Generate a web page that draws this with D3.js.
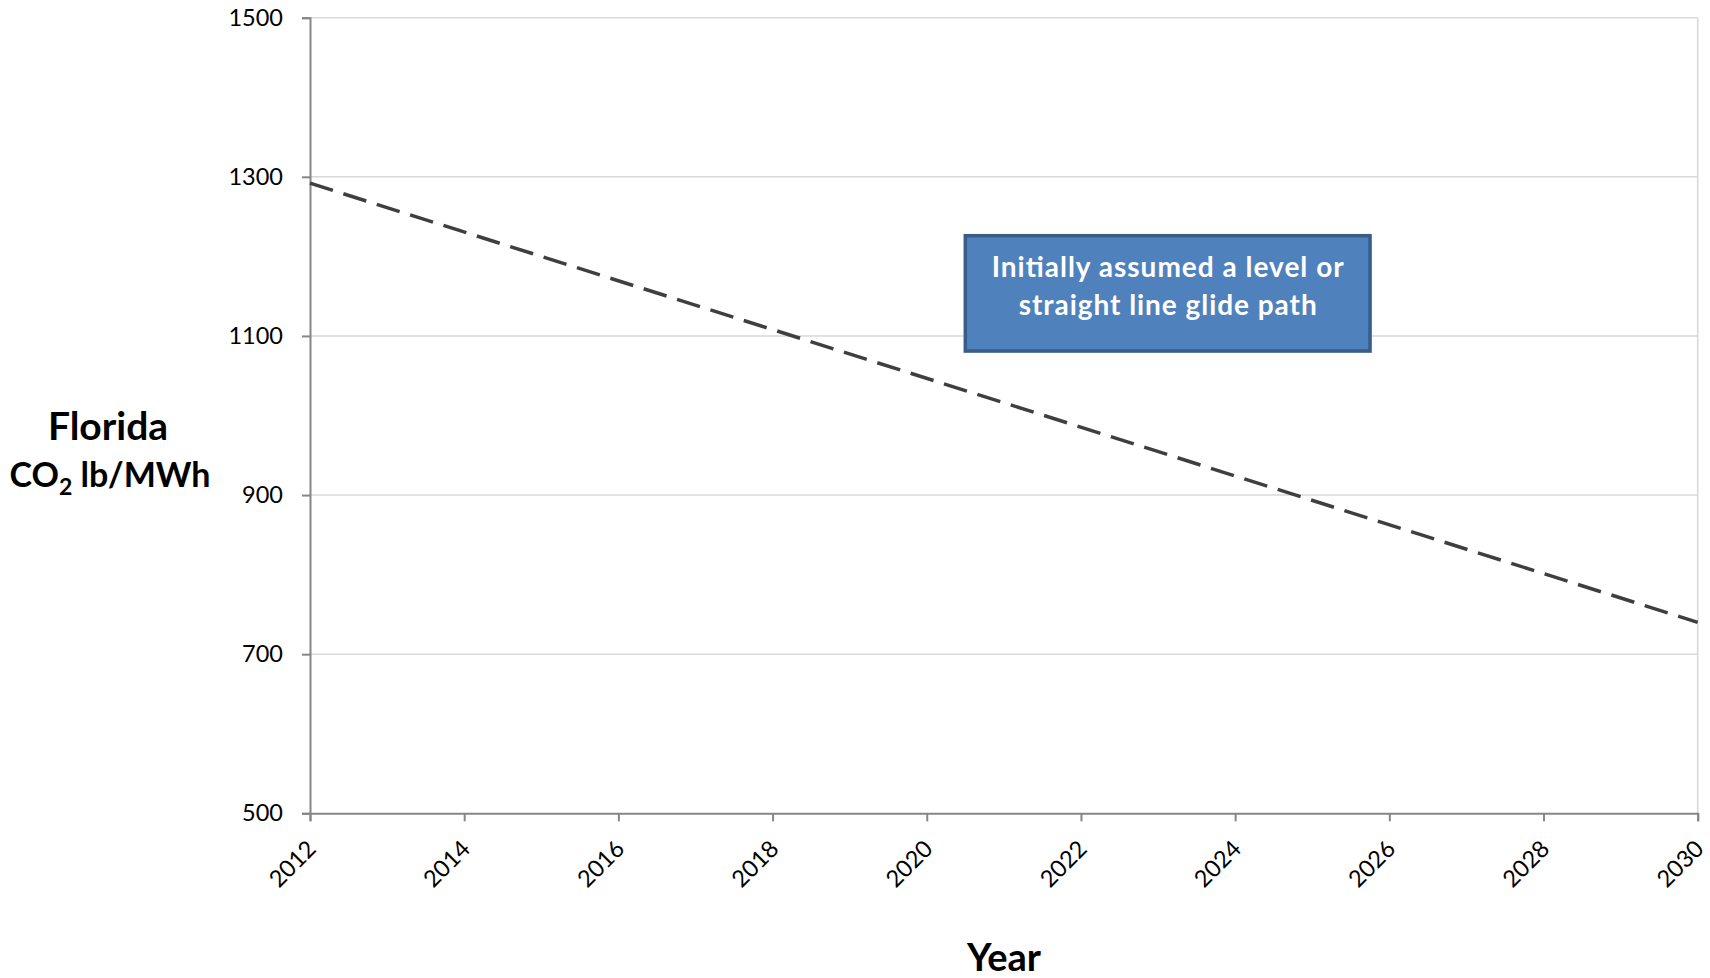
<!DOCTYPE html>
<html>
<head>
<meta charset="utf-8">
<script src="https://cdn.jsdelivr.net/npm/d3@7"></script>
<style>
  html, body { margin: 0; padding: 0; background: #fff; }
  svg { display: block; }
  text { font-family: Lato, "Open Sans", "Liberation Sans", sans-serif; }
</style>
</head>
<body>
<svg id="chart" width="1710" height="978"></svg>
<script>
// Florida CO2 emission-rate glide path, 2012 → 2030
const years = [2012, 2030];
const rates = [1292, 740];
const yTicks = [500, 700, 900, 1100, 1300, 1500];
const xTicks = [2012, 2014, 2016, 2018, 2020, 2022, 2024, 2026, 2028, 2030];
const noteLines = ["Initially assumed a level or", "straight line glide path"];
const noteYears = [2020.5, 2025.75];
const noteRates = [1226, 1081];

const svg = d3.select("#chart");
const W = 1710, H = 978;
const m = { left: 310, right: W - 1697.7, top: 17.7, bottom: H - 813.3 };

const x = d3.scaleLinear().domain([2012, 2030]).range([m.left, W - m.right]);
const y = d3.scaleLinear().domain([500, 1500]).range([H - m.bottom, m.top]);

// horizontal gridlines
svg.append("g").selectAll("line")
  .data(yTicks.filter(d => d > 500))
  .join("line")
  .attr("x1", x(2012)).attr("x2", x(2030))
  .attr("y1", d => y(d)).attr("y2", d => y(d))
  .attr("stroke", "#d9d9d9").attr("stroke-width", 1.6);

// right border of the plot area
svg.append("line")
  .attr("x1", x(2030)).attr("x2", x(2030))
  .attr("y1", y(1500)).attr("y2", y(500))
  .attr("stroke", "#d9d9d9").attr("stroke-width", 1.6);

// y axis
const yAxis = d3.axisLeft(y).tickValues(yTicks).tickSize(8).tickPadding(19).tickFormat(d3.format("d"));
const gy = svg.append("g").attr("transform", `translate(${m.left},0)`).call(yAxis);
gy.select(".domain").attr("stroke", "#868686").attr("stroke-width", 2);
gy.selectAll(".tick line").attr("stroke", "#868686").attr("stroke-width", 2);
gy.selectAll(".tick text").attr("font-size", 23.5).attr("fill", "#000")
  .style("font-family", "Lato, 'Open Sans', sans-serif");

// x axis
const xAxis = d3.axisBottom(x).tickValues(xTicks).tickSize(8).tickFormat(d3.format("d"));
const gx = svg.append("g").attr("transform", `translate(0,${y(500)})`).call(xAxis);
gx.select(".domain").attr("stroke", "#868686").attr("stroke-width", 2);
gx.selectAll(".tick line").attr("stroke", "#868686").attr("stroke-width", 2);
gx.selectAll(".tick text")
  .attr("font-size", 23.5).attr("fill", "#000")
  .attr("text-anchor", "end")
  .attr("dy", "0")
  .attr("y", 0)
  .attr("transform", "translate(7,37) rotate(-45)")
  .style("font-family", "Lato, 'Open Sans', sans-serif");

// glide path
const line = d3.line().x((d, i) => x(years[i])).y(d => y(d));
svg.append("path")
  .datum(rates)
  .attr("d", line)
  .attr("fill", "none")
  .attr("stroke", "#3f3f3f")
  .attr("stroke-width", 3.5)
  .attr("stroke-dasharray", "24 11");

// annotation box
const bx0 = x(noteYears[0]), bx1 = x(noteYears[1]);
const by0 = y(noteRates[0]), by1 = y(noteRates[1]);
svg.append("rect")
  .attr("x", bx0).attr("y", by0)
  .attr("width", bx1 - bx0).attr("height", by1 - by0)
  .attr("fill", "#4f81bd").attr("stroke", "#385d8a").attr("stroke-width", 3.5);
const noteWidths = [352, 298];
svg.append("g").selectAll("text")
  .data(noteLines)
  .join("text")
  .attr("x", (bx0 + bx1) / 2)
  .attr("y", (d, i) => by0 + 41 + i * 38)
  .attr("text-anchor", "middle")
  .attr("font-size", 28).attr("font-weight", "bold").attr("fill", "#fff")
  .attr("textLength", (d, i) => noteWidths[i])
  .text(d => d);

// axis titles
svg.append("text").attr("x", 108).attr("y", 440).attr("text-anchor", "middle")
  .attr("font-weight", "bold").attr("font-size", 39).attr("fill", "#000")
  .text("Florida");
const l2 = svg.append("text").attr("x", 110).attr("y", 487).attr("text-anchor", "middle")
  .attr("font-weight", "bold").attr("font-size", 34).attr("fill", "#000");
l2.append("tspan").text("CO");
l2.append("tspan").attr("font-size", 23).attr("dy", 8).text("2");
l2.append("tspan").attr("dy", -8).text(" lb/MWh");

svg.append("text")
  .attr("x", 1004).attr("y", 971)
  .attr("text-anchor", "middle")
  .attr("font-weight", "bold").attr("font-size", 38).attr("fill", "#000")
  .text("Year");
</script>
</body>
</html>
